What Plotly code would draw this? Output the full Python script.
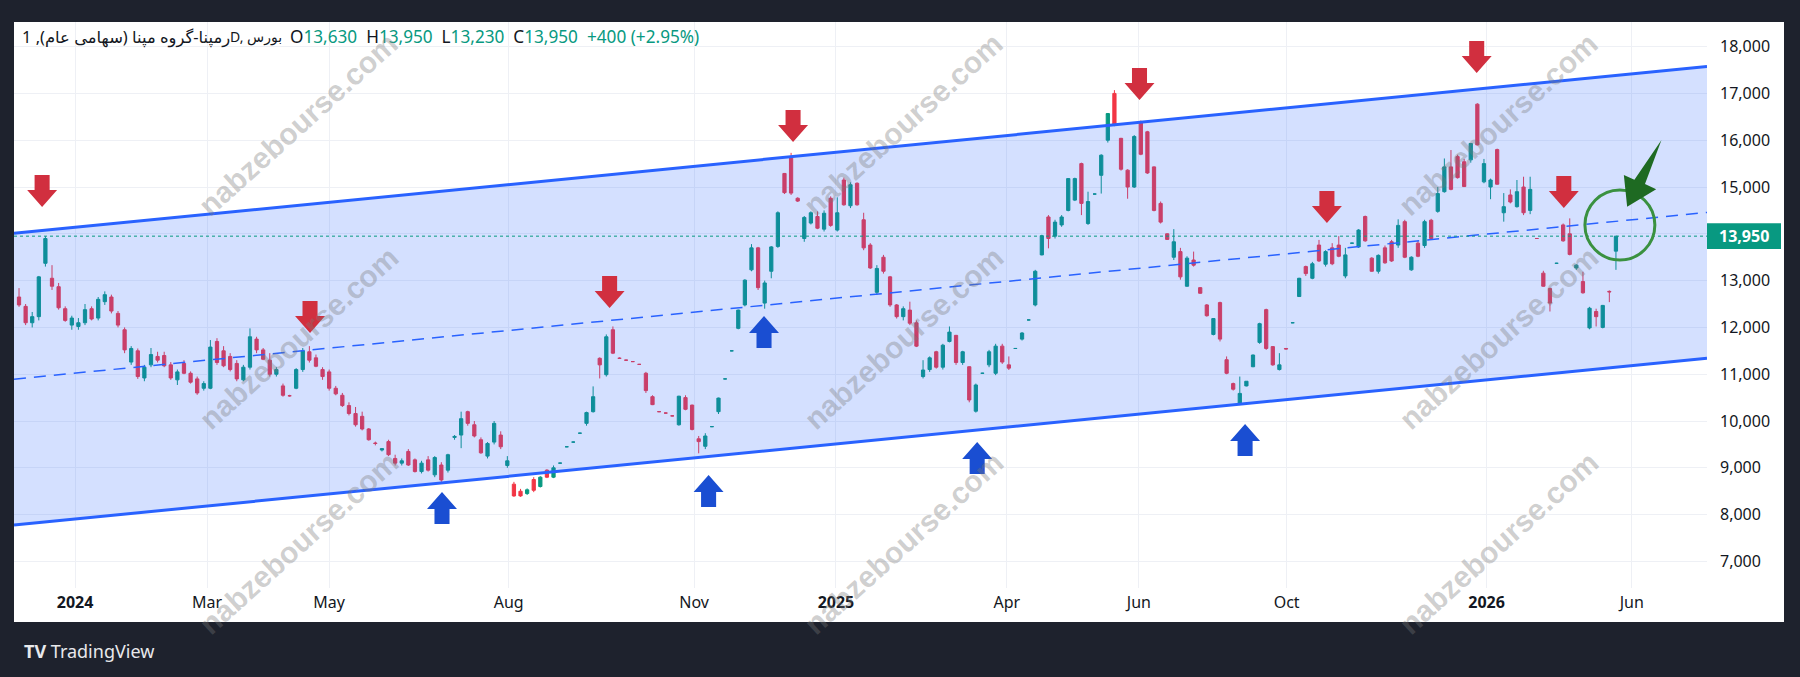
import plotly.graph_objects as go

# ---------------- data ----------------
opens = [12650, 12450, 12100, 12230, 13370, 13050, 12870, 12400, 12050, 12020,
         12100, 12400, 12200, 12550, 12650, 12300, 11950, 11260, 11500, 10920,
         11200, 11380, 11400, 11200, 10880, 11230, 11020, 10900, 10700, 10700,
         11700, 11500, 11380, 11230, 10880, 11150, 11750, 11520, 11300, 11000,
         10750, 10540, 10700, 11100, 11480, 11350, 11100, 11050, 10700, 10550,
         10330, 10160, 10100, 9830, 9530, 9380, 9560, 9200, 9100, 9350,
         9170, 8920, 9170, 8850, 9060, 8950, 9650, 9700, 10200, 9920,
         9600, 9250, 9550, 9700, 9050, 8650, 8500, 8450, 8750, 8600,
         8950, 8800, 9100, 9450, 9550, 9740, 9950, 10200, 11340, 10990,
         11950, 11340, 11300, 11270, 11210, 11020, 10520, 10200, 10170, 10110,
         9920, 10500, 10340, 9620, 9460, 9880, 10200, 10900, 11500, 11980,
         12480, 13230, 13700, 12520, 13200, 13730, 15290, 15650, 14760, 13900,
         14230, 14370, 14100, 14760, 14080, 15150, 14600, 15080, 14300, 13760,
         12750, 13500, 13080, 12480, 12230, 12370, 12100, 10950, 11100, 11480,
         11150, 11700, 11830, 11250, 11160, 10210, 11020, 11200, 11020, 11600,
         11200, 11550, 11750, 12160, 12480, 13550, 14360, 13950, 14190, 14500,
         14720, 15500, 14220, 14850, 15250, 16000, 17000, 16040, 15360, 15000,
         16400, 16180, 15430, 14650, 14000, 13500, 13620, 12880, 13440, 12850,
         12480, 11850, 12530, 11310, 10800, 10380, 10750, 11160, 11680, 12380,
         11590, 11100, 11550, 12100, 12660, 13300, 13050, 13760, 13350, 13700,
         13760, 13100, 13800, 13720, 14370, 13480, 13200, 13700, 13830, 13760,
         14260, 13230, 13800, 13750, 14290, 14480, 14900, 15430, 15650, 15540,
         15580, 16770, 15110, 15000, 15800, 14450, 14830, 14580, 15000, 14500,
         13900, 13160, 12830, 13370, 14190, 14000, 13270, 12980, 11990, 12340,
         12000, 12770, 13630]
highs = [12840, 12500, 12330, 13100, 13950, 13330, 12950, 12450, 12250, 12200,
         12500, 12450, 12650, 12770, 12700, 12350, 12000, 11600, 11550, 11200,
         11560, 11480, 11480, 11260, 11100, 11300, 11060, 10950, 10850, 11730,
         11770, 11600, 11450, 11300, 11200, 11980, 11800, 11560, 11450, 11150,
         10800, 10560, 11130, 11560, 11600, 11420, 11150, 11100, 10750, 10600,
         10400, 10300, 10200, 9850, 9560, 9420, 9600, 9280, 9200, 9400,
         9200, 9150, 9250, 9250, 9120, 9300, 9700, 10200, 10220, 10000,
         9650, 9550, 10000, 9780, 9250, 8700, 8550, 8560, 8800, 8820,
         8970, 9050, 9110, 9460, 9560, 9750, 10200, 10740, 11360, 11850,
         12020, 11360, 11310, 11280, 11220, 11050, 10550, 10210, 10180, 10120,
         10540, 10550, 10350, 9680, 9740, 9890, 10500, 10910, 11510, 12380,
         13030, 13780, 13720, 13000, 13740, 14480, 15300, 15730, 14780, 14380,
         14480, 14480, 14500, 14800, 14780, 15200, 15100, 15100, 14450, 13800,
         13330, 13550, 13100, 12500, 12450, 12550, 12150, 11300, 11380, 11500,
         11650, 12020, 11840, 11500, 11170, 10800, 11030, 11520, 11650, 11650,
         11380, 11560, 11900, 12170, 13230, 13980, 14400, 14300, 14400, 15190,
         15200, 15520, 14900, 14860, 15700, 16580, 17070, 16050, 15380, 16110,
         16420, 16200, 15440, 14690, 14010, 14100, 13700, 13520, 13620, 12860,
         12500, 12200, 12550, 11380, 10820, 10950, 10850, 11420, 12100, 12400,
         11600, 11450, 11560, 12110, 13060, 13320, 13400, 13870, 13650, 13800,
         13950, 13700, 13810, 14100, 14390, 13500, 13560, 13750, 13870, 14310,
         14300, 13520, 13850, 14300, 14320, 15000, 15610, 15790, 15690, 15600,
         15940, 16790, 15600, 15180, 15820, 14870, 14950, 15150, 15220, 15220,
         13910, 13210, 12850, 13380, 14220, 14330, 13350, 13190, 12440, 12400,
         12480, 12790, 13950]
lows = [12440, 12050, 12000, 12150, 13300, 12800, 12380, 12120, 11950, 11950,
        12050, 12150, 12150, 12480, 12300, 12000, 11450, 11200, 10900, 10850,
        11150, 11250, 11150, 10880, 10770, 11000, 10800, 10560, 10650, 10680,
        11200, 11150, 11060, 10850, 10850, 11100, 11450, 11300, 10950, 10950,
        10520, 10520, 10680, 11050, 11250, 11150, 10880, 10650, 10550, 10300,
        10120, 9880, 9800, 9580, 9480, 9350, 9250, 9050, 9050, 9040,
        8900, 8880, 8920, 8800, 8700, 8900, 9600, 9420, 9900, 9650,
        9300, 9200, 9500, 9400, 9000, 8380, 8380, 8420, 8480, 8580,
        8780, 8780, 9090, 9440, 9540, 9730, 9900, 10180, 10910, 10950,
        11430, 11330, 11290, 11260, 11200, 10600, 10340, 10190, 10160, 10100,
        9900, 10230, 9800, 9310, 9400, 9870, 10150, 10890, 11490, 11960,
        12450, 13200, 12800, 12400, 13050, 13700, 14850, 14830, 14680, 13830,
        14200, 14100, 14050, 14150, 14050, 14600, 14550, 14600, 13650, 13250,
        12700, 13150, 12440, 12190, 12150, 12050, 11580, 10910, 11050, 11120,
        11100, 11680, 11200, 11200, 10400, 10180, 11010, 11150, 10980, 11220,
        11090, 11540, 11720, 12150, 12450, 13540, 13690, 13900, 14150, 14480,
        14700, 14400, 14190, 14840, 14860, 15950, 16300, 15350, 14750, 14980,
        15680, 15280, 14480, 14220, 13870, 13440, 13020, 12870, 13300, 12720,
        12230, 11830, 11700, 11000, 10650, 10340, 10740, 11150, 11650, 11520,
        11180, 11080, 11530, 12090, 12650, 13100, 13030, 13400, 13300, 13330,
        13500, 13050, 13790, 13700, 13830, 13190, 13150, 13360, 13400, 13700,
        13480, 13210, 13500, 13700, 13880, 14450, 14880, 14930, 15180, 15000,
        15520, 15890, 15080, 14740, 15050, 14260, 14650, 14560, 14400, 14420,
        13890, 12870, 12340, 13360, 13830, 13540, 13230, 12720, 11960, 12020,
        11980, 12540, 13230]
closes = [12480, 12100, 12230, 13080, 13900, 12880, 12420, 12150, 12200, 12100,
          12380, 12180, 12600, 12700, 12350, 12050, 11520, 11550, 10950, 11150,
          11420, 11300, 11180, 10920, 11050, 11020, 10830, 10600, 10800, 11580,
          11250, 11180, 11100, 10900, 11150, 11800, 11520, 11320, 11000, 11100,
          10550, 10540, 11100, 11500, 11300, 11170, 10950, 10700, 10580, 10330,
          10160, 9920, 9830, 9600, 9520, 9410, 9280, 9100, 9150, 9060,
          8920, 9100, 8950, 9220, 8740, 9280, 9670, 10050, 9950, 9680,
          9320, 9520, 9950, 9450, 9150, 8400, 8400, 8530, 8520, 8800,
          8800, 9000, 9100, 9450, 9550, 9740, 10180, 10520, 11200, 11800,
          11450, 11340, 11300, 11270, 11210, 10650, 10350, 10200, 10170, 10110,
          10530, 10250, 9820, 9560, 9680, 9880, 10490, 10900, 11500, 12370,
          13010, 13700, 12850, 12950, 13720, 14450, 14880, 14870, 14700, 14350,
          14450, 14120, 14440, 14180, 14450, 14620, 15050, 14620, 13700, 13270,
          13260, 13200, 12480, 12230, 12400, 12090, 11600, 11090, 11350, 11150,
          11620, 11900, 11250, 11480, 10450, 10770, 11020, 11480, 11600, 11260,
          11130, 11550, 11880, 12160, 13200, 13960, 13900, 14250, 14360, 15180,
          15180, 14650, 14690, 14850, 15680, 16570, 16330, 15380, 15000, 16080,
          15700, 15300, 14500, 14250, 13880, 13830, 13080, 13480, 13330, 12730,
          12250, 12190, 11750, 11020, 10680, 10590, 10850, 11410, 12080, 11550,
          11200, 11200, 11540, 12100, 13050, 13150, 13360, 13420, 13620, 13360,
          13520, 13550, 13800, 14080, 13850, 13200, 13540, 13380, 13420, 14180,
          13500, 13500, 13520, 14260, 13900, 14860, 15430, 14950, 15200, 15010,
          15930, 15900, 15500, 15150, 15060, 14580, 14680, 14900, 14450, 14950,
          13900, 12880, 12520, 13370, 13850, 13560, 13330, 12740, 12410, 12230,
          12470, 12760, 13950]

last_close = 13950

# time axis (bar-index positions of the month boundaries)
tick_pos = [8.5, 28.5, 47.0, 74.2, 102.3, 123.8, 149.7, 169.7, 192.1, 222.4, 244.4]
tick_text = ["<b>2024</b>", "Mar", "May", "Aug", "Nov", "<b>2025</b>",
             "Apr", "Jun", "Oct", "<b>2026</b>", "Jun"]

# price axis
price_ticks = [7000, 8000, 9000, 10000, 11000, 12000, 13000, 14000,
               15000, 16000, 17000, 18000]
price_labels = ["7,000", "8,000", "9,000", "10,000", "11,000", "12,000",
                "13,000", "", "15,000", "16,000", "17,000", "18,000"]

# parallel channel (two anchor points per line: bar index, price)
channel_x = [-0.76, 255.8]
channel_upper = [14011, 17575]
channel_mid = [10894, 14458]
channel_lower = [7778, 11342]

# arrow marks (tip position: bar index, price)
red_arrow_x = [3.5, 44.1, 89.5, 117.3, 169.8, 198.2, 220.9, 234.1]
red_arrow_y = [14573, 11880, 12415, 15962, 16859, 14231, 17436, 14551]
blue_arrow_x = [64.1, 104.5, 112.9, 145.2, 185.8]
blue_arrow_y = [8483, 8846, 12244, 9551, 9936]

# green circle + big green arrow (drawing anchors)
circle_center = (242.6, 14188)
circle_radius = (5.3, 748)
green_arrow_x = [248.9, 246.4, 248.1, 243.7, 243.2, 244.8]
green_arrow_y = [16004, 15064, 14951, 14579, 15256, 15156]

# header texts
symbol_name = "رمپنا-گروه مپنا (سهامی عام), 1"
symbol_tail = "D, بورس"
ohlc_values = ["13,630", "13,950", "13,230", "13,950"]
change_text = "+400 (+2.95%)"

# ---------------- figure ----------------
UP = "#089981"
DOWN = "#f23645"
BLUE = "#2962ff"
TXT = "#131722"
GRID = "#eef0f5"

W, H = 1800, 677
L, R, T, B = 14, 93, 22, 89
PW, PH = W - L - R, H - T - B


def px_x(px):
    return (px - L) / PW


def px_y(py):
    return (H - B - py) / PH


x_range = [-0.76, 255.8]
y_range = [6432, 18526]

fig = go.Figure()

# channel fill
fig.add_trace(go.Scatter(x=channel_x, y=channel_lower, mode="lines",
                         line=dict(width=0, color=BLUE), hoverinfo="skip",
                         showlegend=False))
fig.add_trace(go.Scatter(x=channel_x, y=channel_upper, mode="lines",
                         line=dict(width=0, color=BLUE), fill="tonexty",
                         fillcolor="rgba(41,98,255,0.2)", hoverinfo="skip",
                         showlegend=False))

# candles
fig.add_trace(go.Candlestick(
    x=list(range(len(closes))), open=opens, high=highs, low=lows, close=closes,
    increasing=dict(line=dict(color=UP, width=1), fillcolor=UP),
    decreasing=dict(line=dict(color=DOWN, width=1), fillcolor=DOWN),
    whiskerwidth=0, showlegend=False, hoverinfo="skip"))

# channel lines
fig.add_trace(go.Scatter(x=channel_x, y=channel_upper, mode="lines",
                         line=dict(width=3, color=BLUE), hoverinfo="skip",
                         showlegend=False))
fig.add_trace(go.Scatter(x=channel_x, y=channel_lower, mode="lines",
                         line=dict(width=3, color=BLUE), hoverinfo="skip",
                         showlegend=False))
fig.add_trace(go.Scatter(x=channel_x, y=channel_mid, mode="lines",
                         line=dict(width=1.5, color=BLUE, dash="12px,8px"),
                         hoverinfo="skip", showlegend=False))

shapes = []
# white chart panel
shapes.append(dict(type="rect", xref="paper", yref="paper", layer="below",
                   x0=px_x(14), x1=px_x(1784), y0=px_y(622), y1=px_y(22),
                   fillcolor="white", line=dict(width=0)))
# last price dotted line
shapes.append(dict(type="line", xref="paper", yref="y", x0=0, x1=1,
                   y0=last_close, y1=last_close,
                   line=dict(color=UP, width=1, dash="dot")))
# price box on the axis
shapes.append(dict(type="rect", xref="paper", yref="y", x0=1.0, x1=px_x(1781),
                   y0=last_close - 275, y1=last_close + 275,
                   fillcolor=UP, line=dict(width=0), layer="above"))

# arrow marks
hw, sw, hh, sh = 2.27, 1.14, 363, 320
for ax_, ay_ in zip(red_arrow_x, red_arrow_y):
    p = (f"M {ax_-sw},{ay_+hh+sh} L {ax_+sw},{ay_+hh+sh} L {ax_+sw},{ay_+hh} "
         f"L {ax_+hw},{ay_+hh} L {ax_},{ay_} L {ax_-hw},{ay_+hh} L {ax_-sw},{ay_+hh} Z")
    shapes.append(dict(type="path", path=p, xref="x", yref="y",
                       fillcolor="#d12f3f", line=dict(width=0), layer="above"))
for ax_, ay_ in zip(blue_arrow_x, blue_arrow_y):
    p = (f"M {ax_-sw},{ay_-hh-sh} L {ax_+sw},{ay_-hh-sh} L {ax_+sw},{ay_-hh} "
         f"L {ax_+hw},{ay_-hh} L {ax_},{ay_} L {ax_-hw},{ay_-hh} L {ax_-sw},{ay_-hh} Z")
    shapes.append(dict(type="path", path=p, xref="x", yref="y",
                       fillcolor="#1a4ed2", line=dict(width=0), layer="above"))

# green circle
cx, cy = circle_center
rx, ry = circle_radius
shapes.append(dict(type="circle", xref="x", yref="y", x0=cx - rx, x1=cx + rx,
                   y0=cy - ry, y1=cy + ry, line=dict(color="#3a9140", width=3),
                   layer="above"))
# big green arrow
gp = "M " + " L ".join(f"{a},{b}" for a, b in zip(green_arrow_x, green_arrow_y)) + " Z"
shapes.append(dict(type="path", path=gp, xref="x", yref="y",
                   fillcolor="#1e6a22", line=dict(width=0), layer="above"))

annotations = []
HFONT = "Noto Sans, DejaVu Sans"
# header: symbol name (rtl part ends where the 'D' starts)
annotations.append(dict(
    xref="paper", yref="paper", x=px_x(232), y=px_y(37), xanchor="right",
    yanchor="middle", showarrow=False, text=symbol_name,
    font=dict(family=HFONT, size=16.4, color=TXT)))
annotations.append(dict(
    xref="paper", yref="paper", x=px_x(228), y=px_y(37), xanchor="left",
    yanchor="middle", showarrow=False, text=symbol_tail,
    font=dict(family=HFONT, size=14, color=TXT)))
sp = "\u00a0\u00a0"
g = lambda s: f'<span style="color:{UP}">{s}</span>'
ohlc = (f"O{g(ohlc_values[0])}{sp}H{g(ohlc_values[1])}{sp}L{g(ohlc_values[2])}"
        f"{sp}C{g(ohlc_values[3])}{sp}{g(change_text)}")
annotations.append(dict(
    xref="paper", yref="paper", x=px_x(288), y=px_y(37), xanchor="left",
    yanchor="middle", showarrow=False, text=ohlc,
    font=dict(family=HFONT, size=17.2, color=TXT)))

# price box text
annotations.append(dict(
    xref="paper", yref="y", x=px_x(1744), y=last_close, xanchor="center",
    yanchor="middle", showarrow=False, text="<b>13,950</b>",
    font=dict(family="Noto Sans", size=16, color="white")))

# TradingView logo
annotations.append(dict(
    xref="paper", yref="paper", x=px_x(22), y=px_y(651), xanchor="left",
    yanchor="middle", showarrow=False,
    text="<b>TV</b> TradingView",
    font=dict(family="Noto Sans", size=18, color="#e8e9ec")))

# watermarks
wm_cols = [298, 903, 1498]
wm_rows = [125, 338, 543]
for wy in wm_rows:
    for wx in wm_cols:
        annotations.append(dict(
            xref="paper", yref="paper", x=px_x(wx), y=px_y(wy),
            xanchor="center", yanchor="middle", showarrow=False,
            text="nabzebourse.com", textangle=-42,
            font=dict(family="Liberation Sans", size=30, weight="bold",
                      color="rgba(120,120,120,0.36)")))

fig.update_layout(
    width=W, height=H,
    margin=dict(l=L, r=R, t=T, b=B),
    paper_bgcolor="#1e222d", plot_bgcolor="white",
    showlegend=False, shapes=shapes, annotations=annotations,
    hovermode=False,
    xaxis=dict(range=x_range, tickvals=tick_pos, ticktext=tick_text,
               showgrid=True, gridcolor=GRID, gridwidth=1,
               zeroline=False, showline=False, ticks="", ticklabelstandoff=3,
               tickfont=dict(family="Noto Sans", size=16, color=TXT),
               rangeslider=dict(visible=False), fixedrange=True),
    yaxis=dict(range=y_range, side="right", tickvals=price_ticks,
               ticktext=price_labels, showgrid=True, gridcolor=GRID,
               gridwidth=1, zeroline=False, showline=False, ticks="",
               ticklabelstandoff=12,
               tickfont=dict(family="Noto Sans", size=16, color=TXT),
               fixedrange=True),
)

fig.write_html("out.html",
               config={"displayModeBar": False},
               post_script="document.body.style.margin='0px';"
                           "document.body.style.overflow='hidden';")
